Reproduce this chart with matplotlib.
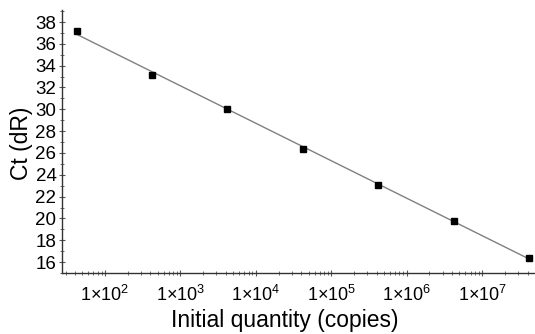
import numpy as np
import matplotlib
matplotlib.use('Agg')
import matplotlib.pyplot as plt
from matplotlib.ticker import FixedLocator, FixedFormatter, MultipleLocator, LogLocator, NullFormatter

plt.rcParams['font.family'] = ['Liberation Sans', 'DejaVu Sans']
plt.rcParams['mathtext.fontset'] = 'custom'
plt.rcParams['mathtext.rm'] = 'Liberation Sans'
plt.rcParams['mathtext.it'] = 'Liberation Sans'

# standard curve: initial quantity vs Ct
quantity = [4.2e1, 4.2e2, 4.2e3, 4.2e4, 4.2e5, 4.2e6, 4.2e7]
ct = [37.18, 33.16, 30.05, 26.4, 23.1, 19.8, 16.36]

xtick_vals = [1e2, 1e3, 1e4, 1e5, 1e6, 1e7]
xtick_labels = [r'$1{\times}10^{%d}$' % e for e in range(2, 8)]

fig = plt.figure(figsize=(5.35, 3.34), dpi=100)
ax = fig.add_axes([62 / 535, 1 - 273 / 334, 473 / 535, 263 / 334])

# linear fit in log space
slope, icpt = np.polyfit(np.log10(quantity), ct, 1)
xf = np.array([quantity[0], quantity[-1]])
ax.plot(xf, slope * np.log10(xf) + icpt, color='#808080', lw=1.0, zorder=2)
ax.plot(quantity, ct, 's', color='black', ms=4, zorder=3)

ax.set_xscale('log')
ax.set_xlim(10 ** 1.43, 10 ** 7.70)

ax.xaxis.set_major_locator(FixedLocator(xtick_vals))
ax.xaxis.set_major_formatter(FixedFormatter(xtick_labels))
ax.xaxis.set_minor_locator(LogLocator(base=10, subs=np.arange(2, 10)))
ax.xaxis.set_minor_formatter(NullFormatter())
ax.yaxis.set_major_locator(MultipleLocator(2))
ax.yaxis.set_minor_locator(MultipleLocator(1))
ax.set_ylim(15, 39.1)

for s in ['top', 'right']:
    ax.spines[s].set_visible(False)
for s in ['left', 'bottom']:
    ax.spines[s].set_color('#333333')
    ax.spines[s].set_linewidth(1.0)

ax.tick_params(which='major', direction='inout', length=5, width=0.8, color='#555555', labelsize=13.5, pad=1.5)
ax.tick_params(which='minor', direction='inout', length=3, width=0.6, color='#555555')
ax.tick_params(axis='x', which='major', labelsize=13, pad=6)

ax.set_xlabel('Initial quantity (copies)', fontsize=16.5, labelpad=0)
ax.xaxis.set_label_coords(0.47, -0.135)
ax.set_ylabel('Ct (dR)', fontsize=16.5, labelpad=0)
ax.yaxis.set_label_coords(-0.062, 0.494)

fig.savefig('out.png', dpi=100)
